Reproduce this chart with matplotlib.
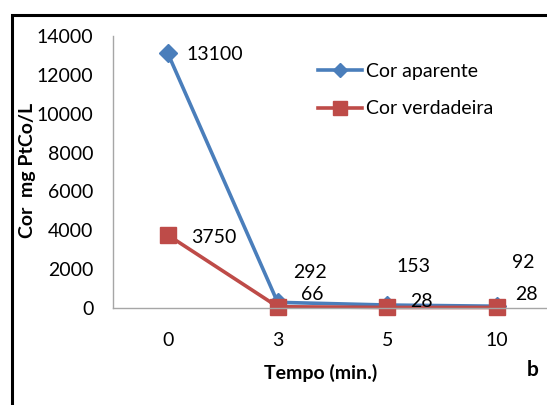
import matplotlib
matplotlib.use("Agg")
import matplotlib.pyplot as plt
from matplotlib.patches import Rectangle
from matplotlib.lines import Line2D

plt.rcParams['font.family'] = ['Lato', 'DejaVu Sans']

tempos = ['0', '3', '5', '10']
cor_aparente = [13100, 292, 153, 92]
cor_verdadeira = [3750, 66, 28, 28]

azul = '#4A7EBB'
vermelho = '#BE4B48'
fs = 14

fig = plt.figure(figsize=(5.47, 4.05), dpi=100)
ax = fig.add_axes([0.2066, 0.2395, 0.8026, 0.6716])

x = range(len(tempos))
ax.plot(x, cor_aparente, color=azul, lw=2.6, marker='D', ms=9, clip_on=False)
ax.plot(x, cor_verdadeira, color=vermelho, lw=2.6, marker='s', ms=12, clip_on=False)

# rótulos dos dados (deslocamentos em pontos)
offs_ap = [(13.5, -1), (11, 21.5), (6.5, 28), (11, 31.5)]
offs_ve = [(16.5, -1.5), (17, 8.5), (16.5, 4.5), (13, 9)]
for i, v in enumerate(cor_aparente):
    ax.annotate(str(v), (i, v), xytext=offs_ap[i], textcoords='offset points',
                ha='left', va='center', fontsize=fs)
for i, v in enumerate(cor_verdadeira):
    ax.annotate(str(v), (i, v), xytext=offs_ve[i], textcoords='offset points',
                ha='left', va='center', fontsize=fs)

ax.set_xlim(-0.5, 3.5)
ax.set_ylim(0, 14000)
ax.set_xticks(list(x))
ax.set_xticklabels(tempos)
ax.set_yticks(range(0, 14001, 2000))
ax.tick_params(axis='both', length=0, labelsize=fs)
ax.tick_params(axis='y', pad=14)
ax.tick_params(axis='x', pad=17)
for s in ['top', 'right']:
    ax.spines[s].set_visible(False)
for s in ['left', 'bottom']:
    ax.spines[s].set_color('#A6A6A6')
    ax.spines[s].set_linewidth(1)

fig.text(321 / 547, 1 - 373 / 405, 'Tempo (min.)', fontsize=fs, fontweight='bold',
         ha='center', va='center')
fig.text(28 / 547, 1 - 170 / 405, 'Cor  mg PtCo/L', fontsize=fs, fontweight='bold',
         ha='center', va='center', rotation=90)
fig.text(527 / 547, 1 - 370 / 405, 'b', fontsize=fs + 1, fontweight='bold',
         ha='left', va='center')

handles = [
    Line2D([], [], color=azul, lw=2.6, marker='D', ms=7),
    Line2D([], [], color=vermelho, lw=2.6, marker='s', ms=10),
]
fig.legend(handles, ['Cor aparente', 'Cor verdadeira'], loc='upper left',
           bbox_to_anchor=(318 / 547, 1 - 63 / 405), frameon=False, fontsize=fs,
           handlelength=2.26, labelspacing=1.05, handletextpad=0.2,
           borderpad=0, borderaxespad=0)

# moldura
fig.patches.append(Rectangle((12 / 547, -0.1), 1.1, 1.1 - 15 / 405,
                             transform=fig.transFigure, fill=False,
                             edgecolor='black', lw=2.2))

fig.savefig('out.png', dpi=100)
